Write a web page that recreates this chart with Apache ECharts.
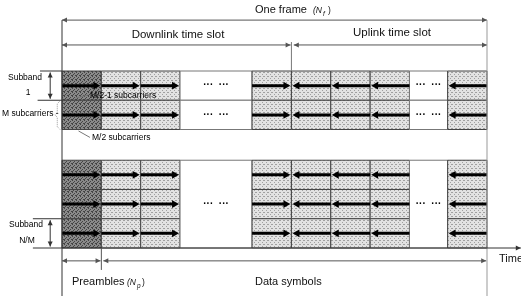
<!DOCTYPE html>
<html lang="en">
<head>
  <meta charset="UTF-8">
  <title>Frame structure</title>
  <script src="https://cdn.jsdelivr.net/npm/echarts@6/dist/echarts.min.js"></script>
  <style>
    html, body { margin: 0; padding: 0; background: #fff; }
    #main { width: 521px; height: 296px; }
  </style>
</head>
<body>
<div id="main"></div>
<script>
  // one frame, column by column (P = preamble, D = downlink, U = uplink, gap = "... ...")
  var slotKinds = ['P', 'D', 'D', 'gap', 'D', 'U', 'U', 'U', 'gap', 'U'];
  // widths in symbol durations
  var slotWidths = [1, 1, 1, 1.83, 1, 1, 1, 1, 0.97, 1];
  // the two subbands that are drawn: rows of subcarrier groups
  var bandRows = [2, 3];
  var bandStart = [0, 3.05];
  // rows of each band where the gap shows dots
  var gapDotRows = [[0, 1], [1]];

  var edges = [0];
  slotWidths.forEach(function (w, i) { edges.push(edges[i] + w); });
  var frameEnd = edges[edges.length - 1];
  var switchPt = edges[5];

  // cells: [x0, x1, y0, y1, slotIndex]
  var cells = [];
  var arrows = [];   // [x0, x1, y, dir]
  var dots = [];     // [xc, yc]
  bandRows.forEach(function (n, b) {
    slotKinds.forEach(function (k, i) {
      if (k === 'gap' && b === 1) {
        cells.push([edges[i], edges[i + 1], bandStart[b], bandStart[b] + n, i]);
      }
      for (var r = 0; r < n; r++) {
        var y0 = bandStart[b] + r;
        if (k !== 'gap') {
          cells.push([edges[i], edges[i + 1], y0, y0 + 1, i]);
          arrows.push([edges[i], edges[i + 1], y0 + 0.5, k === 'U' ? -1 : 1]);
        } else {
          if (b === 0) cells.push([edges[i], edges[i + 1], y0, y0 + 1, i]);
          if (gapDotRows[b].indexOf(r) >= 0) dots.push([(edges[i] + edges[i + 1]) / 2, y0 + 0.5]);
        }
      }
    });
  });

  // guide lines around the grid (axis units), heads: 0 none, 1 end, 2 start, 3 both
  var L = { frame: -1.74, slot: -0.89, top: -1.74, bottom: 7.7, time: 6.05, sym: 6.49 };
  var guides = [
    { p: [[0, L.frame], [frameEnd, L.frame]], h: 3, c: '#555' },
    { p: [[0, L.slot], [switchPt - 0.02, L.slot]], h: 3, c: '#555' },
    { p: [[switchPt + 0.06, L.slot], [frameEnd, L.slot]], h: 3, c: '#555' },
    { p: [[0, L.top], [0, L.bottom]], h: 0, c: '#333' },
    { p: [[frameEnd, L.top], [frameEnd, L.bottom]], h: 0, c: '#999' },
    { p: [[switchPt, -0.99], [switchPt, 0]], h: 0, c: '#777' },
    { p: [[0, L.time], [11.66, L.time]], h: 1, c: '#333' },
    { p: [[1, L.time], [1, 6.8]], h: 0, c: '#555' },
    { p: [[0, L.sym], [0.98, L.sym]], h: 3, c: '#555' },
    { p: [[1.05, L.sym], [frameEnd - 0.02, L.sym]], h: 3, c: '#555' },
    { p: [[-0.56, 0], [0, 0]], h: 0, c: '#333' },
    { p: [[-0.62, 1], [0, 1]], h: 0, c: '#333' },
    { p: [[-0.3, 0.05], [-0.3, 0.95]], h: 3, c: '#333' },
    { p: [[-0.74, 5.05], [0, 5.05]], h: 0, c: '#333' },
    { p: [[-0.74, 6.05], [0, 6.05]], h: 0, c: '#333' },
    { p: [[-0.3, 5.1], [-0.3, 6.0]], h: 3, c: '#333' },
    { p: [[0.42, 2.05], [0.71, 2.27]], h: 0, c: '#777' },
    { p: [[0.34, 0.93], [0.66, 0.82]], h: 0, c: '#777' },
    { p: [[-0.05, 1.02], [-0.12, 1.12], [-0.12, 1.42], [-0.18, 1.5], [-0.12, 1.58], [-0.12, 1.9], [-0.05, 2.0]], h: 0, c: '#999', dash: true }
  ];

  function halftone(base, dot, pts) {
    var c = document.createElement('canvas');
    c.width = 4; c.height = 4;
    var g = c.getContext('2d');
    g.fillStyle = base; g.fillRect(0, 0, 4, 4);
    g.fillStyle = dot;
    pts.forEach(function (p) { g.fillRect(p[0], p[1], 1, 1); });
    return { image: c, repeat: 'repeat' };
  }
  var fills = {
    P: halftone('#8a8a8a', '#444', [[0, 0], [2, 1], [1, 2], [3, 3], [0, 3]]),
    D: halftone('#e2e2e2', '#a0a0a0', [[0, 0], [2, 2], [3, 0]]),
    U: halftone('#e2e2e2', '#a0a0a0', [[0, 0], [2, 2], [3, 0]]),
    gap: '#fff'
  };

  function head(tip, from, len, half, color) {
    var dx = tip[0] - from[0], dy = tip[1] - from[1];
    var d = Math.sqrt(dx * dx + dy * dy) || 1;
    var ux = dx / d, uy = dy / d;
    var bx = tip[0] - ux * len, by = tip[1] - uy * len;
    return {
      type: 'polygon',
      shape: { points: [tip, [bx - uy * half, by + ux * half], [bx + uy * half, by - ux * half]] },
      style: { fill: color }
    };
  }

  var font = '"Liberation Sans", Arial, sans-serif';
  function txt(s, x, y, size, align, extra) {
    var st = { text: s, x: x, y: y, fontSize: size, fontFamily: font, fontWeight: 'normal',
      fontStyle: 'normal', fill: '#111', textAlign: align || 'left', textVerticalAlign: 'middle' };
    if (extra) for (var k in extra) st[k] = extra[k];
    return { type: 'text', style: st, z: 100 };
  }

  var chart = echarts.init(document.getElementById('main'));
  chart.setOption({
    animation: false,
    grid: { left: 62, right: 34, top: 71, bottom: 48 },
    xAxis: { type: 'value', min: 0, max: frameEnd, show: false },
    yAxis: { type: 'value', min: 0, max: 6.05, inverse: true, show: false },
    series: [
      {
        type: 'custom',
        clip: false,
        data: cells,
        renderItem: function (params, api) {
          var p0 = api.coord([api.value(0), api.value(2)]);
          var p1 = api.coord([api.value(1), api.value(3)]);
          var k = slotKinds[api.value(4)];
          return {
            type: 'rect',
            shape: { x: p0[0], y: p0[1], width: p1[0] - p0[0], height: p1[1] - p0[1] },
            style: { fill: fills[k], stroke: k === 'gap' ? '#777' : '#444', lineWidth: 1 }
          };
        }
      },
      {
        type: 'custom',
        clip: false,
        data: arrows,
        z: 3,
        renderItem: function (params, api) {
          var a = api.coord([api.value(0), api.value(2)]);
          var b = api.coord([api.value(1), api.value(2)]);
          var dir = api.value(3);
          var from = dir > 0 ? a : b, tip = dir > 0 ? [b[0] - 1, b[1]] : [a[0] + 1, a[1]];
          var end = [tip[0] - dir * 5, tip[1]];
          return {
            type: 'group',
            children: [
              { type: 'line', shape: { x1: from[0], y1: from[1], x2: end[0], y2: end[1] },
                style: { stroke: '#000', lineWidth: 3 } },
              head(tip, from, 7, 3.8, '#000')
            ]
          };
        }
      },
      {
        type: 'custom',
        clip: false,
        data: dots,
        z: 3,
        renderItem: function (params, api) {
          var c = api.coord([api.value(0), api.value(1)]);
          return { type: 'text', style: { text: '\u00b7\u00b7\u00b7  \u00b7\u00b7\u00b7', x: c[0], y: c[1],
            fontSize: 10, fontWeight: 'bold', fontFamily: font, fill: '#000',
            textAlign: 'center', textVerticalAlign: 'middle' } };
        }
      },
      {
        type: 'custom',
        clip: false,
        data: guides.map(function (g, i) { return [i]; }),
        z: 4,
        renderItem: function (params, api) {
          var g = guides[api.value(0)];
          var pts = g.p.map(function (p) { return api.coord(p); });
          var kids = [{ type: 'polyline', shape: { points: pts },
            style: { stroke: g.c, lineWidth: 1, fill: null, lineDash: g.dash ? [1, 1] : null } }];
          var n = pts.length;
          if (g.h & 1) kids.push(head(pts[n - 1], pts[n - 2], 5, 2.5, g.c));
          if (g.h & 2) kids.push(head(pts[0], pts[1], 5, 2.5, g.c));
          return { type: 'group', children: kids };
        }
      }
    ],
    graphic: [
      txt('One frame', 255, 10, 11),
      txt('(N', 313, 11, 8.5, 'left', { fontStyle: 'italic' }),
      txt('f', 323, 14, 6.5, 'left', { fontStyle: 'italic' }),
      txt(')', 328, 11, 8.5),
      txt('Downlink time slot', 178, 35, 11.5, 'center'),
      txt('Uplink time slot', 392, 33, 11.5, 'center'),
      txt('Subband', 25, 78, 8.5, 'center', { fill: '#000' }),
      txt('1', 28, 93, 8.5, 'center', { fill: '#000' }),
      txt('M subcarriers -', 2, 114, 8.5, 'left', { fill: '#000' }),
      txt('M/2-1 subcarriers', 90, 96, 8.5, 'left', { fill: '#000' }),
      txt('M/2 subcarriers', 92, 138, 8.5, 'left', { fill: '#000' }),
      txt('Subband', 26, 225, 8.5, 'center', { fill: '#000' }),
      txt('N/M', 27, 241, 8.5, 'center', { fill: '#000' }),
      txt('Time', 499, 259, 11),
      txt('Preambles', 72, 282, 11),
      txt('(N', 127, 283, 8.5, 'left', { fontStyle: 'italic' }),
      txt('p', 137, 286, 6.5, 'left', { fontStyle: 'italic' }),
      txt(')', 142, 283, 8.5),
      txt('Data symbols', 255, 282, 11)
    ]
  });
</script>
</body>
</html>
